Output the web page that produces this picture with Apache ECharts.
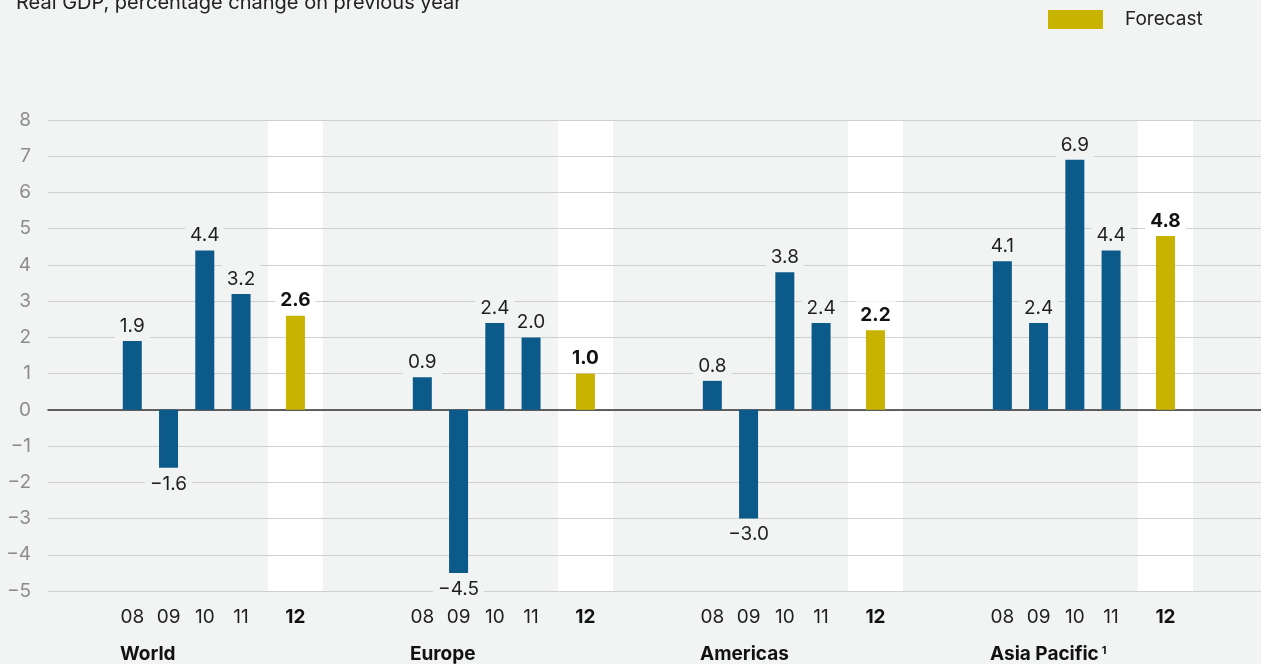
<!DOCTYPE html>
<html>
<head>
<meta charset="utf-8">
<script src="https://cdn.jsdelivr.net/npm/echarts@6/dist/echarts.min.js"></script>
<style>
html,body{margin:0;padding:0;background:#f2f4f3;}
#chart{width:1261px;height:664px;}
</style>
</head>
<body>
<div id="chart"></div>
<script>
// ---- data ----
var regions = ['World', 'Europe', 'Americas', 'Asia Pacific'];
var years = ['08', '09', '10', '11', '12'];
var forecastIndex = 4;
var world = [1.9, -1.6, 4.4, 3.2, 2.6];
var europe = [0.9, -4.5, 2.4, 2.0, 1.0];
var americas = [0.8, -3.0, 3.8, 2.4, 2.2];
var asiaPacific = [4.1, 2.4, 6.9, 4.4, 4.8];
var regionValues = [world, europe, americas, asiaPacific];
var yTicks = [-5, -4, -3, -2, -1, 0, 1, 2, 3, 4, 5, 6, 7, 8];

// ---- layout of category slots on a value x axis ----
var slotOffsets = [0, 2, 4, 6, 9];
var groupStep = 16;
var xMin = -4.65, xMax = 62.27;
var yMin = yTicks[0], yMax = yTicks[yTicks.length - 1];

var BG = '#f2f4f3';
var BLUE = '#0b5a8a';
var GOLD = '#c8b400';
var FONT = 'Inter';
var FS = 19;

function fmt(v) { return v.toFixed(1).replace('-', '\u2212'); }
function posOf(g, i) { return g * groupStep + slotOffsets[i]; }
function key(v) { return v.toFixed(3); }

var actualData = [], forecastData = [], bandData = [];
var yearLabelMap = {}, yearPositions = [];
var groupLabelMap = {}, groupPositions = [];
regions.forEach(function (r, g) {
  years.forEach(function (y, i) {
    var x = posOf(g, i);
    yearPositions.push(x);
    yearLabelMap[key(x)] = (i === forecastIndex) ? '{b|' + y + '}' : y;
    var v = regionValues[g][i];
    if (i === forecastIndex) {
      forecastData.push([x, v]);
      bandData.push([x, yMax]);
      bandData.push([x, yMin]);
    } else {
      actualData.push([x, v]);
    }
  });
  var gx = posOf(g, 0) - 0.68;
  groupPositions.push(gx);
  groupLabelMap[key(gx)] = r === 'Asia Pacific' ? r + '{sup|1}' : r;
});

function barLabel(bg, bold) {
  return {
    show: true,
    position: 'top',
    distance: 2,
    fontFamily: FONT,
    fontSize: FS,
    fontWeight: bold ? 'bold' : 'normal',
    color: bold ? '#111' : '#1f1f1f',
    backgroundColor: bg,
    padding: [4, 5, 3, 5],
    lineHeight: 20,
    formatter: function (p) { return fmt(p.value[1]); }
  };
}
function withNegLabels(data) {
  return data.map(function (d) {
    var item = { value: d };
    if (d[1] < 0) item.label = { position: 'bottom' };
    return item;
  });
}

var chart = echarts.init(document.getElementById('chart'));
chart.setOption({
  backgroundColor: BG,
  animation: false,
  textStyle: { fontFamily: FONT },
  title: {
    text: 'Real GDP, percentage change on previous year',
    left: 11, top: -12,
    textStyle: { fontFamily: FONT, fontSize: 20, fontWeight: 'normal', color: '#222' }
  },
  legend: {
    data: ['Forecast'],
    left: 1048, top: 10, padding: 0,
    itemWidth: 55, itemHeight: 19, icon: 'rect',
    textStyle: { fontFamily: FONT, fontSize: FS, color: '#222', padding: [0, 0, 0, 17] }
  },
  grid: { left: 48, right: 0, top: 120, bottom: 73 },
  xAxis: [
    {
      type: 'value', min: xMin, max: xMax, z: 1,
      axisLine: { show: true, onZero: true, lineStyle: { color: '#333', width: 1.5 } },
      axisTick: { show: false }, axisLabel: { show: false }, splitLine: { show: false }
    },
    {
      type: 'value', min: xMin, max: xMax, position: 'bottom', z: 1,
      axisLine: { show: false, onZero: false }, axisTick: { show: false }, splitLine: { show: false },
      axisLabel: {
        show: true, margin: 17, customValues: yearPositions,
        fontFamily: FONT, fontSize: FS, color: '#1f1f1f',
        formatter: function (v) { return yearLabelMap[key(v)] || ''; },
        rich: { b: { fontFamily: FONT, fontSize: FS, fontWeight: 'bold', color: '#111' } }
      }
    },
    {
      type: 'value', min: xMin, max: xMax, position: 'bottom', z: 1,
      axisLine: { show: false, onZero: false }, axisTick: { show: false }, splitLine: { show: false },
      axisLabel: {
        show: true, margin: 54, customValues: groupPositions, align: 'left',
        fontFamily: FONT, fontSize: FS, fontWeight: 'bold', color: '#111',
        formatter: function (v) { return groupLabelMap[key(v)] || ''; },
        rich: { sup: { fontFamily: FONT, fontSize: 11, fontWeight: 'bold', color: '#111', verticalAlign: 'top', padding: [0, 0, 8, 3] } }
      }
    }
  ],
  yAxis: {
    type: 'value', min: yMin, max: yMax, interval: 1, z: 1,
    axisLine: { show: false }, axisTick: { show: false },
    axisLabel: {
      margin: 17, fontFamily: FONT, fontSize: FS, color: '#8c8c8c',
      formatter: function (v) { return String(v).replace('-', '\u2212'); }
    },
    splitLine: { show: true, lineStyle: { color: '#d0d0d0', width: 1 } }
  },
  series: [
    {
      name: 'Band', type: 'bar', xAxisIndex: 1, z: 0, barWidth: 55, barGap: '-100%',
      itemStyle: { color: '#ffffff' }, silent: true, data: bandData
    },
    {
      name: 'Actual', type: 'bar', xAxisIndex: 0, z: 2, barWidth: 19, barGap: '-100%',
      itemStyle: { color: BLUE }, label: barLabel(BG, false),
      data: withNegLabels(actualData)
    },
    {
      name: 'Forecast', type: 'bar', xAxisIndex: 0, z: 2, barWidth: 19, barGap: '-100%',
      itemStyle: { color: GOLD }, label: barLabel('#ffffff', true),
      data: withNegLabels(forecastData)
    }
  ]
});
</script>
</body>
</html>
